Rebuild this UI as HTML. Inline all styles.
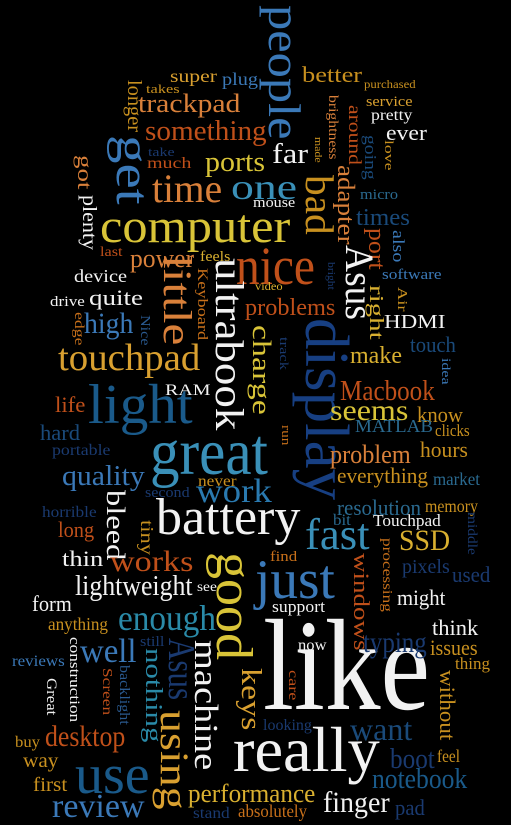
<!DOCTYPE html>
<html><head><meta charset="utf-8">
<style>
html,body{margin:0;padding:0;background:#000;}
#cloud{position:relative;width:511px;height:825px;background:#000;overflow:hidden;}
#cloud span{position:absolute;white-space:nowrap;line-height:1;font-family:"Liberation Serif",serif;transform-origin:0 0;}
</style></head>
<body>
<div id="cloud"></div>
<script>
// word, x, y, length, font size, color key, vertical
const words=[
["people",297,5,135,46,"b",1],["super",170,70,47,18,"g",0],["plug",222,73,36,18,"b",0],["better",302,67,60,22,"g2",0],
["purchased",364,80,52,12,"g2",0],["longer",140,80,52,20,"g2",1],["takes",146,84,34,13,"g2",0],["trackpad",138,95,103,26,"o2",0],
["service",366,97,46,15,"g",0],["brightness",336,95,65,14,"o2",1],["around",360,105,60,18,"o",1],["pretty",371,110,41,16,"w",0],
["something",145,122,122,28,"o",0],["ever",386,125,41,22,"w",0],["get",145,135,70,48,"b",1],["going",375,135,45,17,"db",1],
["made",320,137,26,10,"g2",1],["take",148,147,27,13,"nv",0],["love",393,140,30,13,"g2",1],["much",147,158,45,16,"o",0],
["ports",205,153,60,28,"y",0],["far",272,145,36,28,"w",0],["got",90,155,35,20,"o2",1],["one",231,174,66,36,"t",0],
["bad",330,175,60,40,"g2",1],["time",152,175,70,40,"o2",0],["adapter",352,165,80,24,"o2",1],["micro",360,190,38,15,"t2",0],
["mouse",253,198,42,15,"w",0],["plenty",95,195,55,20,"w",1],["times",356,210,54,24,"db",0],["computer",100,210,190,48,"y",0],
["port",383,228,42,24,"o",1],["also",403,230,32,17,"b",1],["last",100,248,22,14,"o",0],["power",130,250,64,26,"o2",0],
["feels",200,252,30,15,"y2",0],["nice",236,247,79,54,"o",0],["Asus",370,245,75,40,"w",1],["bright",333,262,28,10,"nv",1],
["little",188,255,90,40,"o2",1],["Keyboard",206,268,72,15,"o3",1],["ultrabook",240,258,172,40,"w",1],["device",74,270,53,18,"w",0],
["software",382,270,60,15,"b",0],["video",255,282,28,12,"y2",0],["right",382,285,55,20,"y2",1],["Air",405,287,25,14,"g2",1],
["drive",50,297,35,15,"w",0],["quite",89,290,54,22,"w",0],["problems",245,300,90,24,"o",0],["HDMI",384,315,61,20,"w",0],
["edge",82,312,33,14,"o3",1],["high",84,313,49,30,"b",0],["Nice",148,315,30,14,"b2",1],["charge",268,325,90,26,"y",1],
["track",288,337,33,13,"nv",1],["display",343,318,182,62,"nv2",1],["make",350,348,52,24,"y2",0],["touch",410,337,46,22,"db",0],
["touchpad",58,345,142,38,"g",0],["idea",450,358,27,13,"b",1],["RAM",165,385,45,16,"w",0],["Macbook",340,382,95,28,"o",0],
["life",55,397,30,22,"o",0],["light",88,385,105,56,"dt",0],["seems",330,400,78,30,"y",0],["know",417,407,46,22,"g2",0],
["hard",40,425,40,22,"db",0],["MATLAB",355,420,78,18,"t2",0],["clicks",435,425,35,17,"g2",0],["run",290,425,20,13,"o3",1],
["great",150,430,118,66,"t",0],["portable",52,445,58,16,"nv",0],["problem",330,446,81,26,"o2",0],["hours",420,442,48,22,"g2",0],
["quality",62,467,83,28,"b",0],["everything",337,468,91,22,"g2",0],["market",433,473,47,18,"t2",0],["never",198,476,39,16,"g2",0],
["second",145,488,45,15,"nv",0],["work",196,480,76,34,"t3",0],["bleed",122,490,70,26,"w",1],["horrible",42,507,55,16,"nv",0],
["resolution",337,500,84,22,"t2",0],["memory",425,500,53,18,"g2",0],["battery",156,500,144,52,"w",0],["long",58,522,36,22,"o",0],
["tiny",152,520,35,18,"g2",1],["bit",333,515,18,16,"t2",0],["Touchpad",373,515,68,17,"w",0],["middle",475,512,43,14,"nv",1],
["fast",305,520,65,44,"t",0],["SSD",399,530,51,30,"y2",0],["processing",390,538,74,14,"o3",1],["thin",62,551,41,22,"w",0],
["works",110,551,83,30,"o",0],["good",248,552,108,52,"y",1],["find",270,552,27,15,"o3",0],["windows",367,553,97,22,"o",1],
["just",255,560,80,56,"b",0],["pixels",402,560,48,20,"nv",0],["used",452,567,38,22,"nv",0],["lightweight",75,577,118,28,"w",0],
["see",197,583,20,14,"w",0],["might",397,590,48,22,"w",0],["form",32,596,40,22,"w",0],["support",272,601,53,17,"w",0],
["enough",118,605,98,36,"t4",0],["anything",48,618,60,18,"g2",0],["think",432,620,46,22,"w",0],["like",263,620,167,130,"w",0],
["typing",363,632,64,30,"nv",0],["still",140,637,25,15,"nv",0],["now",298,640,29,16,"w",0],["issues",430,640,48,22,"g2",0],
["well",80,640,57,34,"b",0],["construction",78,637,85,15,"w",1],["Asus",192,638,62,38,"nv",1],["nothing",160,648,94,24,"t4",1],
["machine",215,640,130,34,"w",1],["reviews",12,656,53,16,"b",0],["thing",455,658,35,17,"g2",0],["Screen",110,668,47,14,"o",1],
["backlight",128,665,60,15,"b2",1],["care",296,670,30,14,"o",1],["keys",258,668,62,28,"g",1],["without",453,670,70,22,"g2",1],
["Great",55,678,37,15,"w",1],["looking",263,720,49,16,"nv",0],["using",185,710,100,40,"g",1],["want",350,718,62,32,"db",0],
["desktop",45,726,80,30,"o",0],["buy",15,737,25,16,"g2",0],["really",233,728,147,64,"w",0],["way",23,754,35,20,"g2",0],
["boot",390,750,45,28,"nv",0],["feel",437,750,23,18,"g2",0],["use",75,755,75,56,"dt",0],["first",33,778,34,20,"g2",0],
["notebook",372,770,95,28,"dt",0],["performance",188,785,127,26,"y2",0],["review",52,795,93,34,"b",0],["finger",323,792,67,30,"w",0],
["pad",395,800,30,22,"nv",0],["stand",193,808,37,16,"nv",0],["absolutely",238,805,69,18,"o3",0]
];
const palette={b:"#3b79b8",b2:"#2a5a90",g:"#d9a030",g2:"#c8901f",o:"#c0501a",o2:"#d9803a",o3:"#c8701a",w:"#f2f2f2",
y:"#d9c438",y2:"#d9b030",db:"#1a4a7a",nv:"#1a3a70",nv2:"#173f82",t:"#3a90b8",t2:"#2a6a90",t3:"#2a7ab0",t4:"#2a8aa8",dt:"#1a5a8a"};
const cloud=document.getElementById('cloud');
words.forEach(function(w){
  const s=document.createElement('span');
  
  
  s.textContent=w[0];
  s.style.fontSize=w[4]+'px';
  s.style.color=palette[w[5]];
  cloud.appendChild(s);
  const nat=s.offsetWidth||1;
  const sc=w[3]/nat;
  if(w[6]){
    s.style.left=(w[1]+0.22*w[4])+'px';
    s.style.top=w[2]+'px';
    s.style.transform='rotate(90deg) scaleX('+sc+')';
  }else{
    s.style.left=w[1]+'px';
    s.style.top=(w[2]-0.15*w[4])+'px';
    s.style.transform='scaleX('+sc+')';
  }
});
</script>
</body></html>
